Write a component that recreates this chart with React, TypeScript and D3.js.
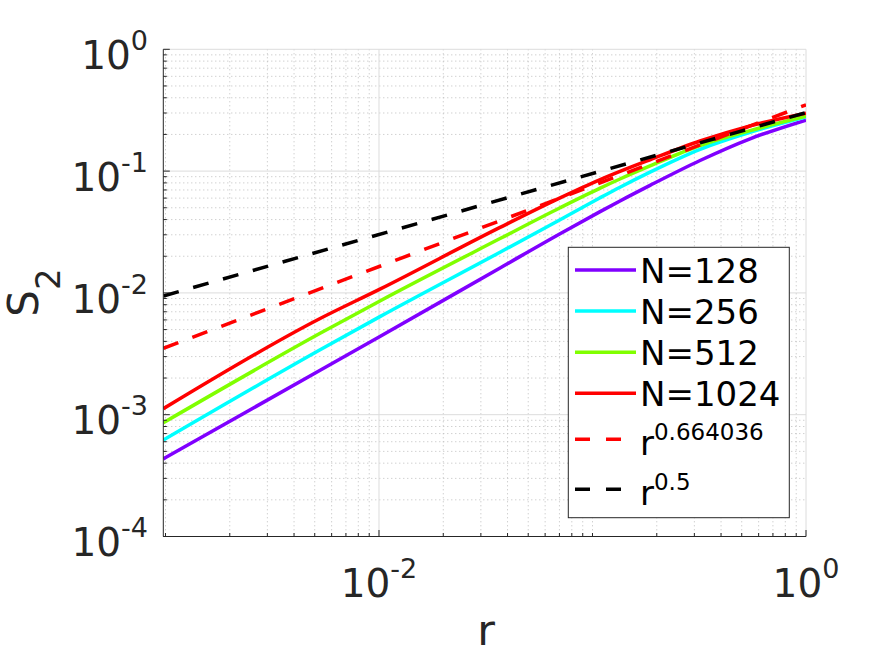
import * as d3 from 'd3';

// r sample positions shared by the four N curves
const rValues = [0.000977, 0.0053, 0.0101, 0.0369, 0.0705, 0.108, 0.1345, 0.186, 0.319, 0.547, 1];

const s2N128 = [0.000434, 0.002317, 0.004385, 0.01603, 0.03062, 0.04624, 0.05689, 0.07638, 0.1222, 0.1841, 0.2624];
const s2N256 = [0.000619, 0.003412, 0.006383, 0.02158, 0.0399, 0.06012, 0.07379, 0.09817, 0.151, 0.2084, 0.2786];
const s2N512 = [0.000859, 0.004656, 0.00859, 0.02793, 0.05, 0.07211, 0.0861, 0.1102, 0.1622, 0.2148, 0.2818];
const s2N1024 = [0.00112, 0.006166, 0.01074, 0.03451, 0.06026, 0.08472, 0.09931, 0.1239, 0.1766, 0.235, 0.2992];

// power-law guide lines: straight in log-log, so two end points each
const fitR = [0.000977, 1];
const fitP0664 = [0.00351, 0.35];
const fitP05 = [0.00943, 0.302];

const xTickValues = [1e-2, 1];
const xTickExps = ['-2', '0'];
const yTickValues = [1e-4, 1e-3, 1e-2, 1e-1, 1];
const yTickExps = ['-4', '-3', '-2', '-1', '0'];

const legendBase = ['N=128', 'N=256', 'N=512', 'N=1024', 'r', 'r'];
const legendSup = ['', '', '', '', '0.664036', '0.5'];

const W = 891;
const H = 656;
const PLOT = { left: 163.3, right: 806, top: 49.3, bottom: 536.5 };
const INK = '#262626';
const FONT = '"DejaVu Sans", sans-serif';

interface Series {
  r: number[];
  s: number[];
  color: string;
  dashed: boolean;
}

const series: Series[] = [
  { r: rValues, s: s2N128, color: '#8000ff', dashed: false },
  { r: rValues, s: s2N256, color: '#00ffff', dashed: false },
  { r: rValues, s: s2N512, color: '#80ff00', dashed: false },
  { r: rValues, s: s2N1024, color: '#ff0000', dashed: false },
  { r: fitR, s: fitP0664, color: '#ff0000', dashed: true },
  { r: fitR, s: fitP05, color: '#000000', dashed: true },
];

export default function App() {
  const x = d3.scaleLog().domain([1 / 1024, 1]).range([PLOT.left, PLOT.right]);
  const y = d3.scaleLog().domain([1e-4, 1]).range([PLOT.bottom, PLOT.top]);

  // minor positions: every m*10^k inside the domain that is not a labelled tick
  const minorX: number[] = [];
  for (let k = -4; k <= 0; k++) {
    for (let m = 1; m <= 9; m++) {
      const v = m * Math.pow(10, k);
      if (v >= 1 / 1024 && v <= 1 && !xTickValues.some(t => Math.abs(t - v) / t < 1e-6)) minorX.push(v);
    }
  }
  const minorY: number[] = [];
  for (let k = -4; k < 0; k++) {
    for (let m = 2; m <= 9; m++) minorY.push(m * Math.pow(10, k));
  }

  const line = d3
    .line<[number, number]>()
    .x(d => x(d[0]))
    .y(d => y(d[1]))
    .curve(d3.curveMonotoneX);

  const LEG = { x0: 568.3, y0: 247.3, x1: 789.3, y1: 517.7 };
  const legendRows = [270, 311, 352.3, 393.3, 439.3, 489.3];

  return (
    <svg
      width={W}
      height={H}
      viewBox={`0 0 ${W} ${H}`}
      style={{ position: 'absolute', left: 0, top: 0, background: '#fff' }}
      fontFamily={FONT}
    >
      <rect x={0} y={0} width={W} height={H} fill="#fff" />
      <defs>
        <clipPath id="plot-clip">
          <rect x={PLOT.left} y={PLOT.top} width={PLOT.right - PLOT.left} height={PLOT.bottom - PLOT.top} />
        </clipPath>
      </defs>

      {/* minor grid, dotted */}
      {minorX.map((v, i) => (
        <line key={`mgx-${i}`} x1={x(v)} x2={x(v)} y1={PLOT.top} y2={PLOT.bottom}
          stroke="#bdbdbd" strokeWidth={1} strokeDasharray="1 3" />
      ))}
      {minorY.map((v, i) => (
        <line key={`mgy-${i}`} x1={PLOT.left} x2={PLOT.right} y1={y(v)} y2={y(v)}
          stroke="#bdbdbd" strokeWidth={1} strokeDasharray="1 3" />
      ))}

      {/* major grid */}
      {xTickValues.map((v, i) => (
        <line key={`gx-${i}`} x1={x(v)} x2={x(v)} y1={PLOT.top} y2={PLOT.bottom} stroke="#dcdcdc" strokeWidth={1} />
      ))}
      {yTickValues.map((v, i) => (
        <line key={`gy-${i}`} x1={PLOT.left} x2={PLOT.right} y1={y(v)} y2={y(v)} stroke="#dcdcdc" strokeWidth={1} />
      ))}

      {/* data */}
      <g clipPath="url(#plot-clip)">
        {series.map((s, i) => (
          <path
            key={`series-${i}`}
            d={line(s.r.map((r, j) => [r, s.s[j]] as [number, number])) ?? ''}
            fill="none"
            stroke={s.color}
            strokeWidth={3.5}
            strokeDasharray={s.dashed ? '16 15' : undefined}
          />
        ))}
      </g>

      {/* axes lines and inward ticks */}
      <line x1={PLOT.left} x2={PLOT.left} y1={PLOT.top} y2={PLOT.bottom} stroke={INK} strokeWidth={1} />
      <line x1={PLOT.left} x2={PLOT.right} y1={PLOT.bottom} y2={PLOT.bottom} stroke={INK} strokeWidth={1} />
      {yTickValues.map((v, i) => (
        <line key={`ty-${i}`} x1={PLOT.left} x2={PLOT.left + 6.5} y1={y(v)} y2={y(v)} stroke={INK} />
      ))}
      {minorY.map((v, i) => (
        <line key={`mty-${i}`} x1={PLOT.left} x2={PLOT.left + 3.5} y1={y(v)} y2={y(v)} stroke={INK} />
      ))}
      {xTickValues.map((v, i) => (
        <line key={`tx-${i}`} x1={x(v)} x2={x(v)} y1={PLOT.bottom} y2={PLOT.bottom - 6.5} stroke={INK} />
      ))}
      {minorX.map((v, i) => (
        <line key={`mtx-${i}`} x1={x(v)} x2={x(v)} y1={PLOT.bottom} y2={PLOT.bottom - 3.5} stroke={INK} />
      ))}

      {/* tick labels */}
      {yTickValues.map((v, i) => (
        <text key={`ly-${i}`} x={148} y={y(v) + 19.6} textAnchor="end" fontSize={39} fill={INK}>
          10
          <tspan dy={-19} fontSize={27}>{yTickExps[i]}</tspan>
        </text>
      ))}
      {xTickValues.map((v, i) => (
        <text key={`lx-${i}`} x={x(v)} y={596.7} textAnchor="middle" fontSize={39} fill={INK}>
          10
          <tspan dy={-19} fontSize={27}>{xTickExps[i]}</tspan>
        </text>
      ))}

      {/* axis labels */}
      <text x={486} y={645} textAnchor="middle" fontSize={43} fill={INK}>r</text>
      <text transform="translate(38.3,292.5) rotate(-90)" textAnchor="middle" fontSize={42} fill={INK}>
        S<tspan dy={21.7} fontSize={34}>2</tspan>
      </text>

      {/* legend */}
      <rect x={LEG.x0} y={LEG.y0} width={LEG.x1 - LEG.x0} height={LEG.y1 - LEG.y0} fill="#fff" stroke={INK} strokeWidth={1} />
      {series.map((s, i) => {
        const cy = legendRows[i];
        const hasSup = legendSup[i] !== '';
        return (
          <g key={`leg-${i}`}>
            <line x1={575} x2={636} y1={cy} y2={cy} stroke={s.color} strokeWidth={3.5}
              strokeDasharray={s.dashed ? '15 16' : undefined} />
            <text x={640} y={cy + (hasSup ? 15.7 : 12.7)} fontSize={34} fill="#000">
              {legendBase[i]}
              {hasSup && <tspan dy={-15.5} fontSize={23}>{legendSup[i]}</tspan>}
            </text>
          </g>
        );
      })}
    </svg>
  );
}
